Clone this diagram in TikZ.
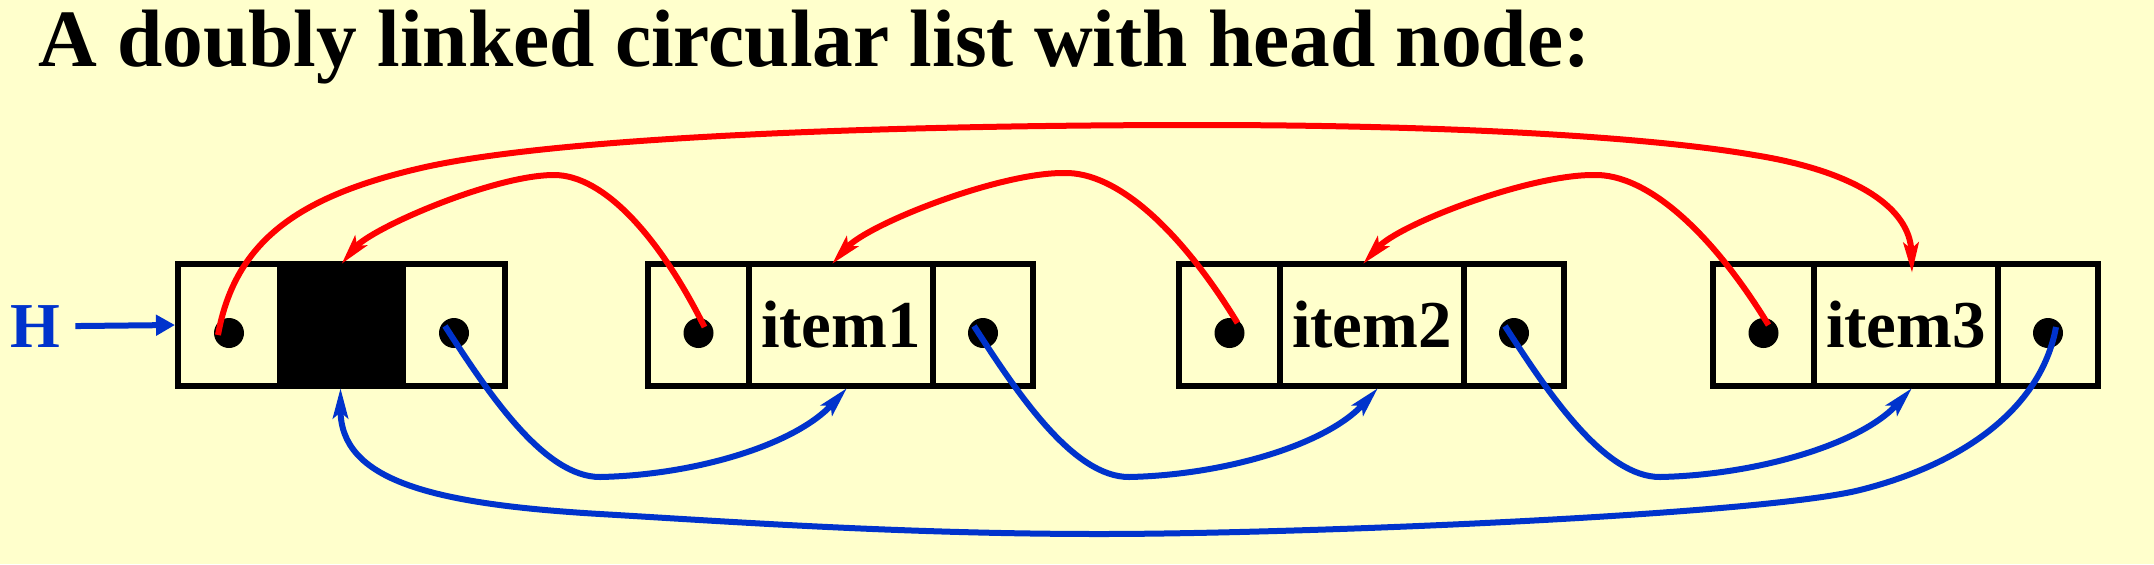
\documentclass[tikz,border=0pt]{standalone}
\usepackage{fontspec}
\setmainfont{Liberation Serif}
\usetikzlibrary{arrows.meta}
\definecolor{bgyellow}{HTML}{FFFFCC}
\definecolor{ptrred}{HTML}{FF0000}
\definecolor{ptrblue}{HTML}{0033CC}
\tikzset{
  cellbox/.style={draw=black, line width=3.2pt, inner sep=0pt, outer sep=0pt, minimum height=61pt},
  lcell/.style={cellbox, minimum width=50.5pt},
  mcell/.style={cellbox, minimum width=92pt, font=\fontsize{33.5}{40}\selectfont\bfseries},
  rcell/.style={cellbox, minimum width=50pt},
  headside/.style={cellbox, minimum width=51pt},
  headmid/.style={cellbox, fill=black, minimum width=61.5pt},
  ptrdot/.style={circle, fill=black, inner sep=0pt, outer sep=0pt, minimum size=15pt},
  redptr/.style={draw=ptrred, line width=3pt, -{Stealth[length=15pt,width=7.5pt,inset=3pt]}},
  blueptr/.style={draw=ptrblue, line width=3pt, -{Stealth[length=15pt,width=7.5pt,inset=3pt]}},
  harrow/.style={draw=ptrblue, line width=3pt, -{Triangle[length=9.5pt,width=10pt]}}
}
\begin{document}
\begin{tikzpicture}[x=0.5pt,y=-0.5pt]
\useasboundingbox (0,0) rectangle (2154,564);
\fill[bgyellow] (0,0) rectangle (2154,564);

\node[anchor=base west, inner sep=0pt, font=\fontsize{40.7}{48}\selectfont\bfseries] (title) at (38,66) {A doubly linked circular list with head node:};

% head node
\node[headside] (h1) at (229,325) {};
\node[headmid] (h2) at (341.5,325) {};
\node[headside] (h3) at (454,325) {};
% item1
\node[lcell] (a1) at (698.5,325) {};
\node[mcell] (a2) at (841,325) {item1};
\node[rcell] (a3) at (983,325) {};
% item2
\node[lcell] (b1) at (1229.5,325) {};
\node[mcell] (b2) at (1372,325) {item2};
\node[rcell] (b3) at (1514,325) {};
% item3
\node[lcell] (c1) at (1763.5,325) {};
\node[mcell] (c2) at (1906,325) {item3};
\node[rcell] (c3) at (2048,325) {};

% dots
\node[ptrdot] (hd1) at (229,333) {};
\node[ptrdot] (hd3) at (454,333) {};
\node[ptrdot] (ad1) at (698.5,333) {};
\node[ptrdot] (ad3) at (983,333) {};
\node[ptrdot] (bd1) at (1229.5,333) {};
\node[ptrdot] (bd3) at (1514,333) {};
\node[ptrdot] (cd1) at (1763.5,333) {};
\node[ptrdot] (cd3) at (2048,333) {};

% H label and arrow
\node[inner sep=0pt, anchor=base, text=ptrblue, font=\fontsize{32}{38}\selectfont\bfseries] (H) at (35,347) {H};
\draw[harrow] ([xshift=7.5pt]H.east) -- ([xshift=-1.5pt]h1.west);

% way-points
\coordinate (r1top) at (554,175);
\coordinate (r2top) at (1063,173);
\coordinate (r3top) at (1593,175);
\coordinate (lr1) at (421,168);
\coordinate (lr2) at (1200,125);
\coordinate (lr3) at (1754,155);
\coordinate (bl1) at (600,477);
\coordinate (bl2) at (1129,477);
\coordinate (bl3) at (1660,477);
\coordinate (lb1) at (1860,490);
\coordinate (lb2) at (1100,534);
\coordinate (lb3) at (600,514);

% red (prev) pointers
\draw[redptr] ([shift={(6,-6)}]ad1.center) .. controls +(-45,-90) and +(50,0) .. (r1top)
  .. controls +(-60,0) and +(30,-36) .. (h2.north);
\draw[redptr] ([shift={(8,-10)}]bd1.center) .. controls +(-55,-90) and +(55,-2) .. (r2top)
  .. controls +(-65,0) and +(36,-40) .. ([shift={(-9,0)}]a2.north);
\draw[redptr] ([shift={(5,-8)}]cd1.center) .. controls +(-55,-90) and +(55,-2) .. (r3top)
  .. controls +(-65,0) and +(36,-40) .. ([shift={(-9,0)}]b2.north);
\draw[redptr] ([shift={(-11,2)}]hd1.center) .. controls +(17,-95) and +(-121,28) .. (lr1)
  .. controls +(139,-32) and +(-300,0) .. (lr2)
  .. controls +(250,0) and +(-104,-18) .. (lr3)
  .. controls +(106,17) and +(-2,-63) .. ([shift={(6,9)}]c2.north);

% blue (next) pointers
\draw[blueptr] ([shift={(-9,-7)}]hd3.center) .. controls +(45,70) and +(-55,0) .. (bl1)
  .. controls +(95,-2) and +(-52,57) .. ([shift={(6,2)}]a2.south);
\draw[blueptr] ([shift={(-9,-7)}]ad3.center) .. controls +(45,70) and +(-55,0) .. (bl2)
  .. controls +(95,-2) and +(-52,57) .. ([shift={(6,2)}]b2.south);
\draw[blueptr] ([shift={(-9,-7)}]bd3.center) .. controls +(45,70) and +(-55,0) .. (bl3)
  .. controls +(95,-2) and +(-52,57) .. ([shift={(6,2)}]c2.south);
\draw[blueptr] ([shift={(8,-6)}]cd3.center) .. controls +(-15,83) and +(100,-25) .. (lb1)
  .. controls +(-100,25) and +(200,0) .. (lb2)
  .. controls +(-200,0) and +(120,7) .. (lb3)
  .. controls +(-170,-10) and +(0,92) .. ([shift={(-1,2)}]h2.south);
\end{tikzpicture}
\end{document}
